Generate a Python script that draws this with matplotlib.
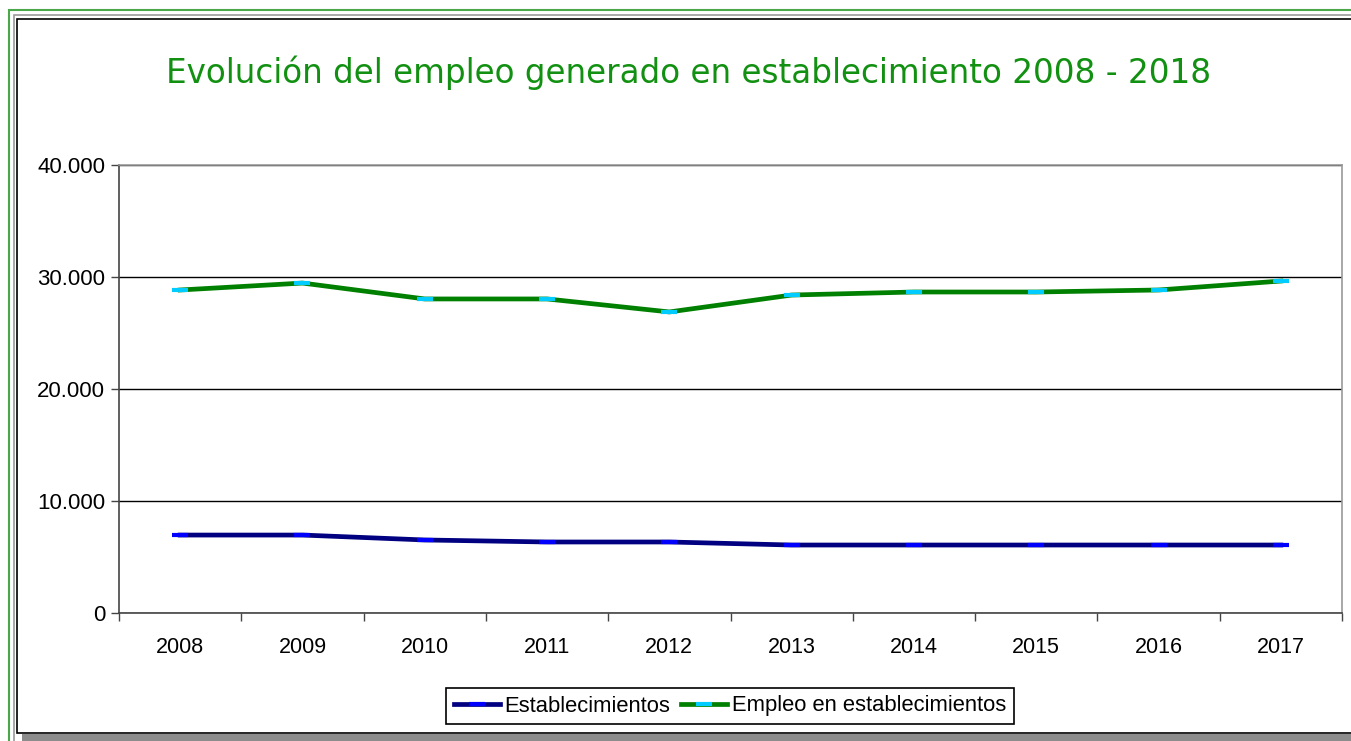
import matplotlib
matplotlib.use("Agg")
import matplotlib.pyplot as plt
from matplotlib.patches import Rectangle
from matplotlib.ticker import FuncFormatter, MultipleLocator

# data
years = ["2008", "2009", "2010", "2011", "2012", "2013", "2014", "2015", "2016", "2017"]
establecimientos = [6960, 6960, 6520, 6340, 6340, 6070, 6070, 6070, 6070, 6070]
empleo = [28840, 29460, 28040, 28040, 26880, 28390, 28660, 28660, 28840, 29640]

W, H = 1351, 741
fig = plt.figure(figsize=(W / 100, H / 100), dpi=100)

def box(x0, y0, x1, y1, **kw):
    # pixel box (top-left origin) -> rectangle in figure fractions
    r = Rectangle((x0 / W, 1 - y1 / H), (x1 - x0) / W, (y1 - y0) / H,
                  transform=fig.transFigure, zorder=-10, **kw)
    fig.patches.append(r)

# outer frame: green line, gray line, shadow and black chart border
box(9, 10, 1360, 760, fill=False, ec="#4aa84a", lw=1.5)
box(14, 15, 1360, 760, fill=False, ec="#999999", lw=1.2)
box(22, 734, 1360, 741, fc="#8c8c8c", ec="none")
box(17, 19, 1360, 733, fc="white", ec="black", lw=1.2)

ax = fig.add_axes((119 / W, 1 - 613 / H, (1342 - 119) / W, (613 - 165) / H))
ax.patch.set_alpha(0)
x = list(range(len(years)))
ax.plot(x, establecimientos, color="#000080", lw=3.4, marker="_", ms=11, mew=3,
        mec="#0000ff", label="Establecimientos", zorder=3)
ax.plot(x, empleo, color="#008000", lw=3.4, marker="_", ms=11, mew=3,
        mec="#00ccff", label="Empleo en establecimientos", zorder=3)

ax.set_xlim(-0.5, len(years) - 0.5)
ax.set_ylim(0, 40000)
ax.yaxis.set_major_locator(MultipleLocator(10000))
ax.yaxis.set_major_formatter(FuncFormatter(lambda v, p: f"{int(v):,}".replace(",", ".")))
ax.set_xticks([i - 0.5 for i in range(len(years) + 1)])
ax.set_xticklabels([])
ax.set_xticks(x, minor=True)
ax.set_xticklabels(years, minor=True)
ax.tick_params(axis="x", which="minor", length=0, pad=17, labelsize=15.5)
ax.tick_params(axis="x", which="major", length=6, width=1, color="#444444")
ax.tick_params(axis="y", length=6, width=1, color="#444444", labelsize=16, pad=4)
for lab in ax.get_xticklabels(minor=True) + ax.get_yticklabels():
    lab.set_fontfamily("Liberation Sans")

ax.grid(axis="y", color="black", lw=1)
ax.set_axisbelow(True)
ax.spines["left"].set_color("#444444")
ax.spines["bottom"].set_color("#444444")
ax.spines["top"].set_color("#999999")
ax.spines["right"].set_color("#999999")
for s in ax.spines.values():
    s.set_linewidth(1.2)

fig.text(689 / W, 1 - 73 / H, "Evolución del empleo generado en establecimiento 2008 - 2018",
         ha="center", va="center", color="#119011", fontsize=23.5, family="DejaVu Sans")

leg = fig.legend(loc="center", bbox_to_anchor=(730 / W, 1 - 706 / H), ncol=2,
                 frameon=True, fancybox=False, edgecolor="black", framealpha=1,
                 prop={"family": "Liberation Sans", "size": 15.8},
                 handlelength=2.1, handletextpad=0.2, columnspacing=0.5,
                 borderpad=0.35, borderaxespad=0)
leg.get_frame().set_linewidth(1.2)

fig.savefig("out.png", dpi=100)
